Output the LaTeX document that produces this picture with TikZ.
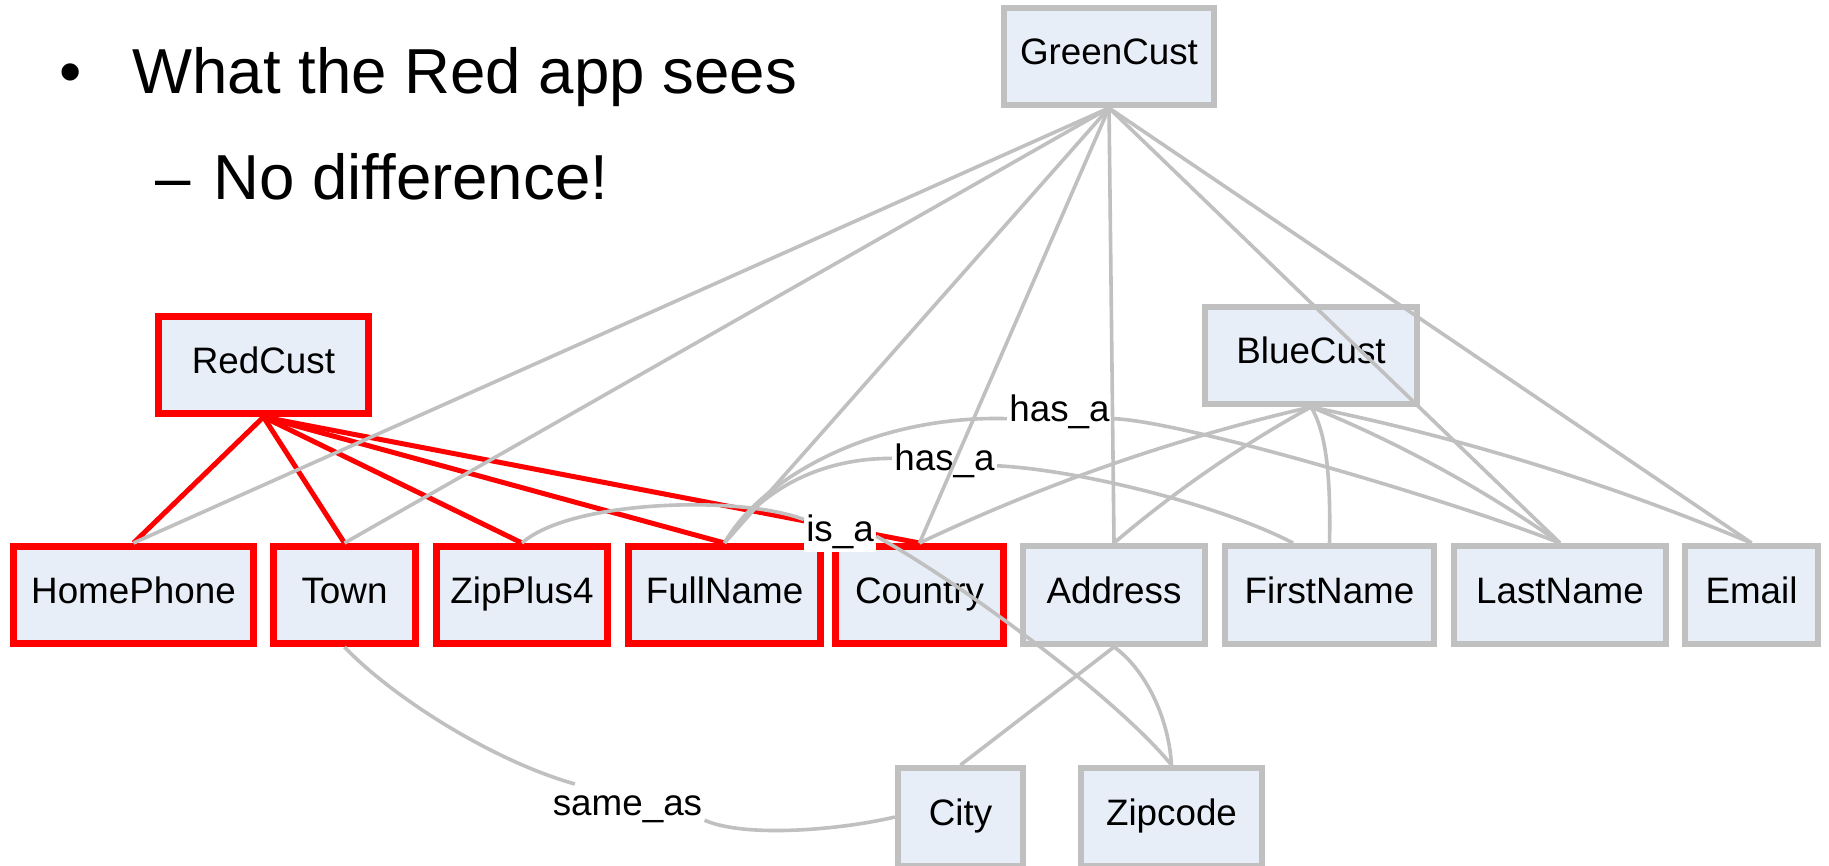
\documentclass[tikz,border=0pt]{standalone}
\usepackage{fontspec}
\setmainfont{Liberation Sans}
\definecolor{edgegray}{RGB}{192,192,192}
\definecolor{boxfill}{RGB}{232,238,248}
\definecolor{hired}{RGB}{255,0,0}
\tikzset{
  ent/.style={rectangle, draw=edgegray, fill=boxfill, line width=3pt,
    outer sep=1.5pt, inner sep=0pt, minimum height=49pt,
    text height=13.17pt, text depth=5.12pt,
    font=\fontsize{18.4pt}{22pt}\selectfont},
  redent/.style={ent, draw=hired, line width=3.5pt, outer sep=1.75pt, minimum height=48.5pt},
  gline/.style={draw=edgegray, line width=1.8pt},
  rline/.style={draw=hired, line width=2.5pt},
  elabel/.style={fill=white, anchor=base, inner xsep=1pt, inner ysep=1.5pt,
    text height=13.8pt, text depth=4.05pt,
    font=\fontsize{18.4pt}{22pt}\selectfont},
  titletext/.style={anchor=base west, inner sep=0pt,
    font=\fontsize{31.8pt}{38pt}\selectfont}
}
\begin{document}
\begin{tikzpicture}[x=0.5pt,y=-0.5pt]
\useasboundingbox (0,0) rectangle (1829,866);
\fill[white] (0,0) rectangle (1829,866);

% title
\node[titletext] (bullet) at (59,94) {•};
\node[titletext] (head1) at (132,94) {What the Red app sees};
\node[titletext] (dash) at (155,199) {–};
\node[titletext] (head2) at (213,199) {No difference!};

% nodes
\node[ent, minimum width=105pt, minimum height=48.5pt] (GreenCust) at (1109,56.5) {GreenCust};
\node[ent, minimum width=106pt, minimum height=48.5pt] (BlueCust) at (1311,355.5) {BlueCust};
\node[redent, minimum width=105pt] (RedCust) at (263.5,365) {RedCust};

\node[redent, minimum width=120pt] (HomePhone) at (133.5,595) {HomePhone};
\node[redent, minimum width=71pt] (Town) at (344.5,595) {Town};
\node[redent, minimum width=85.5pt] (ZipPlus4) at (522,595) {ZipPlus4};
\node[redent, minimum width=96pt] (FullName) at (724.5,595) {FullName};
\node[redent, minimum width=84pt] (Country) at (919.5,595) {Country};
\node[ent, minimum width=91pt] (Address) at (1114,595) {Address};
\node[ent, minimum width=104.5pt] (FirstName) at (1329.5,595) {FirstName};
\node[ent, minimum width=106pt] (LastName) at (1560,595) {LastName};
\node[ent, minimum width=66.5pt] (Email) at (1751.5,595) {Email};
\node[ent, minimum width=62.5pt] (City) at (960.5,817) {City};
\node[ent, minimum width=90.5pt] (Zipcode) at (1171.5,817) {Zipcode};

% red edges
\draw[rline] (RedCust.south) -- (HomePhone.north);
\draw[rline] (RedCust.south) -- (Town.north);
\draw[rline] (RedCust.south) -- (ZipPlus4.north);
\draw[rline] (RedCust.south) -- (FullName.north);
\draw[rline] (RedCust.south) -- (Country.north);

% edge labels
\node[elabel] (hasaU) at (1059.5,421) {has\_a};
\node[elabel] (hasaL) at (944.5,470) {has\_a};
\node[elabel] (isa) at (840,541) {is\_a};
\node[elabel] (sameas) at (627.5,815) {same\_as};

% labelled edges
\draw[gline] (FullName.north) .. controls (760,490) and (820,458) .. (hasaL.178);
\draw[gline] (hasaL.-6) .. controls (1080,470) and (1220,505) .. ([xshift=-18.25pt]FirstName.north);
\draw[gline] (FullName.north) .. controls (760,480) and (870,415) .. (hasaU.-172);
\draw[gline] (hasaU.-8) .. controls (1180,420) and (1450,500) .. (LastName.north);
\draw[gline] (ZipPlus4.north) .. controls (570,500) and (740,495) .. (isa.162);
\draw[gline] (isa.-8) .. controls (940,570) and (1110,690) .. (Zipcode.north);
\draw[gline] (Town.south) .. controls (390,695) and (490,760) .. (sameas.158);
\draw[gline] (sameas.-11) .. controls (745,838) and (840,830) .. (City.west);

% GreenCust edges
\draw[gline] (GreenCust.south) -- (HomePhone.north);
\draw[gline] (GreenCust.south) -- (Town.north);
\draw[gline] (GreenCust.south) -- (FullName.north);
\draw[gline] (GreenCust.south) -- (Country.north);
\draw[gline] (GreenCust.south) -- (Address.north);
\draw[gline] (GreenCust.south) -- (LastName.north);
\draw[gline] (GreenCust.south) -- (Email.north);

% BlueCust edges
\draw[gline] (BlueCust.south) .. controls (1175.6,438.1) and (1045.1,483.5) .. (Country.north);
\draw[gline] (BlueCust.south) .. controls (1240.7,445.7) and (1175,491) .. (Address.north);
\draw[gline] (BlueCust.south) .. controls (1325,430) and (1331,470) .. (FirstName.north);
\draw[gline] (BlueCust.south) .. controls (1399.1,442.9) and (1482.1,488.3) .. (LastName.north);
\draw[gline] (BlueCust.south) .. controls (1462.2,438) and (1609.1,483.4) .. (Email.north);

% Address edges
\draw[gline] (Address.south) -- (City.north);
\draw[gline] (Address.south) .. controls (1140,665) and (1168,710) .. (Zipcode.north);
\end{tikzpicture}
\end{document}
